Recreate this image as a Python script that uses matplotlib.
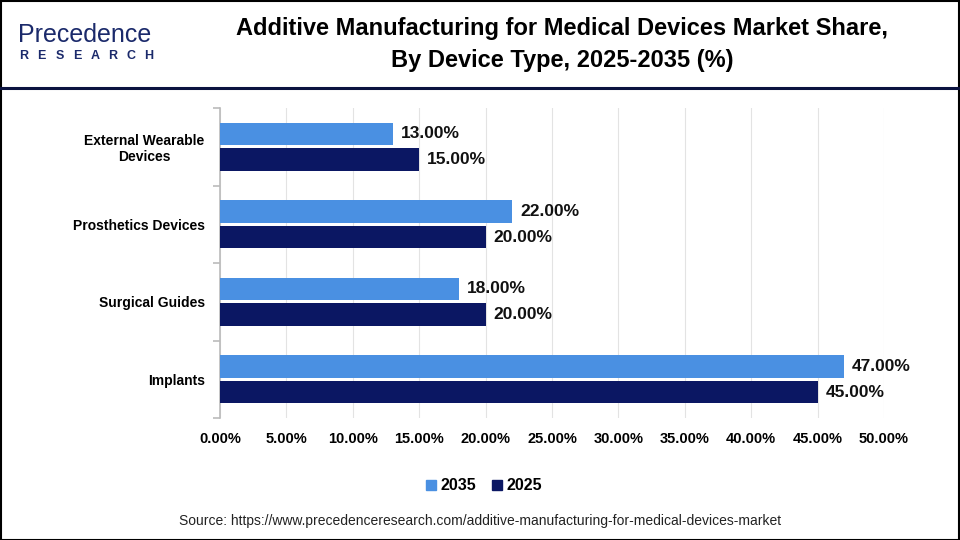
import matplotlib
matplotlib.use("Agg")
import matplotlib.pyplot as plt
import numpy as np
from matplotlib.patches import Rectangle
from matplotlib.lines import Line2D

categories = ["External Wearable\nDevices", "Prosthetics Devices", "Surgical Guides", "Implants"]
series_names = ["2035", "2025"]
values_2035 = [13.0, 22.0, 18.0, 47.0]
values_2025 = [15.0, 20.0, 20.0, 45.0]
xticks = [0, 5, 10, 15, 20, 25, 30, 35, 40, 45, 50]

c_light = "#4A90E2"
c_dark = "#0B1763"

W, H = 960, 540
fig = plt.figure(figsize=(9.6, 5.4), dpi=100)

sans = ["Liberation Sans", "DejaVu Sans"]

# axes placement in pixels
left, right, top, bottom = 220, 884, 108, 418
ax = fig.add_axes([left / W, 1 - bottom / H, (right - left) / W, (bottom - top) / H])

n = len(categories)
y = np.arange(n)
h = 0.29
off = 0.165
ax.barh(y - off, values_2035, height=h, color=c_light, label=series_names[0], zorder=3)
ax.barh(y + off, values_2025, height=h, color=c_dark, label=series_names[1], zorder=3)

for yi, v in zip(y, values_2035):
    ax.text(v + 0.6, yi - off, f"{v:.2f}%", va="center", ha="left", fontsize=12.5,
            fontweight="bold", family=sans, color="#111111")
for yi, v in zip(y, values_2025):
    ax.text(v + 0.6, yi + off, f"{v:.2f}%", va="center", ha="left", fontsize=12.5,
            fontweight="bold", family=sans, color="#111111")

ax.set_ylim(n - 0.5, -0.5)
ax.set_xlim(0, 50)
ax.set_xticks(xticks)
ax.set_xticklabels([f"{t:.2f}%" for t in xticks], fontsize=10.5, fontweight="bold", family=sans)
ax.set_yticks(y)
ax.set_yticklabels(categories, fontsize=10, fontweight="bold", family=sans)
for lab in ax.get_yticklabels():
    lab.set_horizontalalignment("right")
    lab.set_multialignment("center")
ax.tick_params(axis="y", which="major", length=0, pad=11)
ax.set_yticks(np.arange(n + 1) - 0.5, minor=True)
ax.tick_params(axis="y", which="minor", length=5, color="#BBBBBB", width=1.2)
ax.tick_params(axis="x", length=0, pad=10)
ax.grid(axis="x", color="#E3E3E3", linewidth=0.8, zorder=0)
for s in ["top", "right", "bottom"]:
    ax.spines[s].set_visible(False)
ax.spines["left"].set_color("#BBBBBB")
ax.spines["left"].set_linewidth(1.2)

# Legend
handles = [Rectangle((0, 0), 1, 1, color=c_light), Rectangle((0, 0), 1, 1, color=c_dark)]
fig.legend(handles, series_names, loc="center", bbox_to_anchor=(484 / W, 1 - 486 / H), ncol=2,
           frameon=False, prop={"family": sans, "size": 11.5, "weight": "bold"},
           handlelength=0.6, handleheight=0.6, handletextpad=0.3, columnspacing=1.0)

# Title
fig.text(562 / W, 1 - 28 / H, "Additive Manufacturing for Medical Devices Market Share,",
         ha="center", va="center", fontsize=17, fontweight="bold", family=sans)
fig.text(562 / W, 1 - 60 / H, "By Device Type, 2025-2035 (%)",
         ha="center", va="center", fontsize=17, fontweight="bold", family=sans)

# Logo
fig.text(18 / W, 1 - 42 / H, "Precedence", ha="left", va="baseline", fontsize=18,
         color="#1B2A6B", family=sans)
for i, ch in enumerate("RESEARCH"):
    fig.text((24 + i * 17.8) / W, 1 - 56 / H, ch, ha="center", va="center", fontsize=9,
             color="#1B2A6B", fontweight="bold", family=sans)

# header separator line
fig.add_artist(Line2D([0, 1], [1 - 88 / H, 1 - 88 / H], color="#0B1340", linewidth=2.2))

# Source
fig.text(480 / W, 1 - 521 / H,
         "Source: https://www.precedenceresearch.com/additive-manufacturing-for-medical-devices-market",
         ha="center", va="center", fontsize=10, family=sans, color="#222222")

# border
fig.add_artist(Rectangle((0.5 / W, 0.5 / H), 1 - 1.5 / W, 1 - 1.5 / H, fill=False,
                         edgecolor="black", linewidth=1.5, transform=fig.transFigure))

fig.savefig("out.png", dpi=100)
